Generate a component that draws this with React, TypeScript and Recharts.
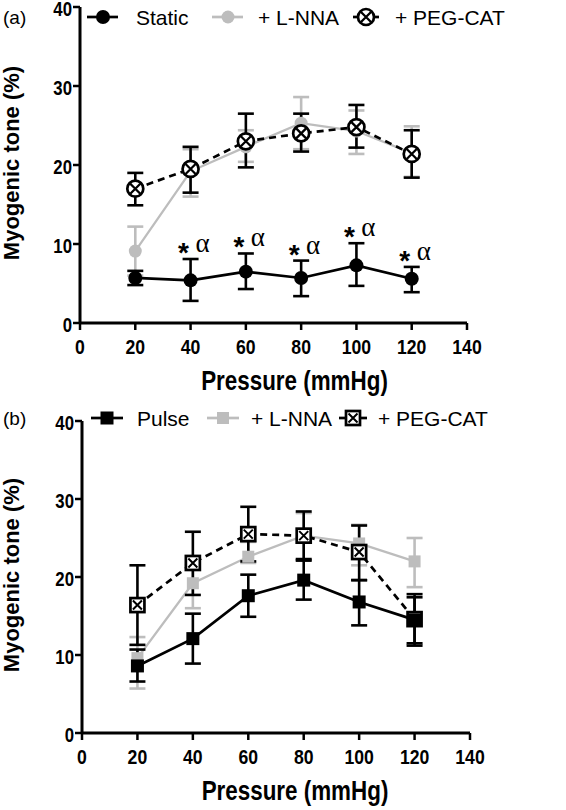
import React from "react";
import { LineChart, Line, XAxis, YAxis, ErrorBar, Legend, LabelList } from "recharts";

const pressure = [20, 40, 60, 80, 100, 120];
const xTicks = [0, 20, 40, 60, 80, 100, 120, 140];
const yTicks = [0, 10, 20, 30, 40];

// panel (a) – static
const staticMean = [5.7, 5.4, 6.5, 5.7, 7.3, 5.6];
const staticHi = [6.6, 8.1, 8.8, 7.9, 10.1, 7.1];
const staticLo = [4.8, 2.8, 4.3, 3.4, 4.7, 3.9];
const staticSig = ["", "*α", "*α", "*α", "*α", "*α"];
const lnnaAMean = [9.1, 19.2, 22.3, 25.3, 24.3, 21.5];
const lnnaAHi = [12.2, 22.0, 24.4, 28.6, 26.9, 24.9];
const lnnaALo = [6.0, 16.0, 20.4, 22.0, 21.4, 18.5];
const pegAMean = [17.0, 19.5, 23.0, 24.0, 24.8, 21.4];
const pegAHi = [19.0, 22.3, 26.5, 26.5, 27.6, 24.4];
const pegALo = [14.9, 16.5, 19.7, 21.7, 22.2, 18.4];

// panel (b) – pulse
const pulseMean = [8.6, 12.1, 17.6, 19.6, 16.8, 14.5];
const pulseHi = [10.7, 15.3, 20.3, 22.1, 19.6, 17.8];
const pulseLo = [6.6, 8.9, 14.9, 17.1, 13.8, 11.2];
const lnnaBMean = [9.6, 19.2, 22.6, 25.3, 24.3, 22.0];
const lnnaBHi = [12.3, 21.5, 24.5, 28.2, 26.7, 25.0];
const lnnaBLo = [5.7, 16.0, 21.8, 22.2, 21.5, 18.7];
const pegBMean = [16.4, 21.8, 25.5, 25.3, 23.2, 14.6];
const pegBHi = [21.5, 25.8, 29.0, 28.4, 26.6, 17.4];
const pegBLo = [11.3, 17.7, 22.0, 22.3, 19.6, 11.5];

const SANS = '"Liberation Sans", Arial, Helvetica, sans-serif';
const GRAY = "#bdbdbd";
const SQUEEZE = 0.84; // bold labels in the figure are condensed

const err = (m: number[], hi: number[], lo: number[], i: number) => [
  +(m[i] - lo[i]).toFixed(2),
  +(hi[i] - m[i]).toFixed(2),
];

const dataA = pressure.map((p, i) => ({
  p,
  s: staticMean[i],
  sErr: err(staticMean, staticHi, staticLo, i),
  sTop: staticHi[i],
  sig: staticSig[i],
  n: lnnaAMean[i],
  nErr: err(lnnaAMean, lnnaAHi, lnnaALo, i),
  g: pegAMean[i],
  gErr: err(pegAMean, pegAHi, pegALo, i),
}));

const dataB = pressure.map((p, i) => ({
  p,
  s: pulseMean[i],
  sErr: err(pulseMean, pulseHi, pulseLo, i),
  n: lnnaBMean[i],
  nErr: err(lnnaBMean, lnnaBHi, lnnaBLo, i),
  g: pegBMean[i],
  gErr: err(pegBMean, pegBHi, pegBLo, i),
}));

// markers
const blackCircle = (p: any) => <circle key={`bc${p.index}`} cx={p.cx} cy={p.cy} r={7} fill="#000" />;
const grayCircle = (p: any) => <circle key={`gc${p.index}`} cx={p.cx} cy={p.cy} r={6.5} fill={GRAY} />;
const crossCircle = (p: any) => {
  const { cx, cy } = p;
  const d = 5;
  return (
    <g key={`xc${p.index}`}>
      <circle cx={cx} cy={cy} r={8} fill="#fff" stroke="#000" strokeWidth={2.7} />
      <path d={`M${cx - d},${cy - d}L${cx + d},${cy + d}M${cx - d},${cy + d}L${cx + d},${cy - d}`} stroke="#000" strokeWidth={2.3} />
    </g>
  );
};
const blackSquare = (p: any) => <rect key={`bs${p.index}`} x={p.cx - 6.5} y={p.cy - 6.5} width={13} height={13} fill="#000" />;
const graySquare = (p: any) => <rect key={`gs${p.index}`} x={p.cx - 6} y={p.cy - 6} width={12} height={12} fill={GRAY} />;
const crossSquare = (p: any) => {
  const { cx, cy } = p;
  const d = 4.5;
  return (
    <g key={`xs${p.index}`}>
      <rect x={cx - 7} y={cy - 7} width={14} height={14} fill="#fff" stroke="#000" strokeWidth={2.7} />
      <path d={`M${cx - d},${cy - d}L${cx + d},${cy + d}M${cx - d},${cy + d}L${cx + d},${cy - d}`} stroke="#000" strokeWidth={2} />
    </g>
  );
};

const SigLabel = (props: any) => {
  const { x, y, value, index } = props;
  if (!value) return null;
  return (
    <g key={`sig${index}`}>
      <text x={x - 7} y={y + 3} textAnchor="middle" fontSize={28} fontWeight="bold" fontFamily={SANS} fill="#000">
        {value[0]}
      </text>
      <text x={x + 12} y={y - 7} textAnchor="middle" fontSize={27} fontFamily='"Liberation Serif", "DejaVu Serif", serif' fill="#000">
        {value.slice(1)}
      </text>
    </g>
  );
};

type LegendItem = { label: string; x1: number; x2: number; cx: number; tx: number; stroke: string; mark: (p: any) => any };

const legendA: LegendItem[] = [
  { label: "Static", x1: 87, x2: 118, cx: 103, tx: 136, stroke: "#000", mark: blackCircle },
  { label: "+ L-NNA", x1: 212, x2: 243, cx: 228, tx: 258, stroke: GRAY, mark: grayCircle },
  { label: "+ PEG-CAT", x1: 353, x2: 379, cx: 366, tx: 395, stroke: "#000", mark: crossCircle },
];
const legendB: LegendItem[] = [
  { label: "Pulse", x1: 91, x2: 123, cx: 107, tx: 137, stroke: "#000", mark: blackSquare },
  { label: "+ L-NNA", x1: 207, x2: 239, cx: 223, tx: 251, stroke: GRAY, mark: graySquare },
  { label: "+ PEG-CAT", x1: 339, x2: 367, cx: 353, tx: 378, stroke: "#000", mark: crossSquare },
];

const LegendSvg = ({ tag, items, cy, base }: { tag: string; items: LegendItem[]; cy: number; base: number }) => (
  <svg width={566} height={36} style={{ display: "block" }}>
    <text x={3} y={base - 1} fontSize={19} fontFamily={SANS} fill="#000">{tag}</text>
    {items.map((it, i) => (
      <g key={i}>
        <line x1={it.x1} x2={it.x2} y1={cy} y2={cy} stroke={it.stroke} strokeWidth={2.7} />
        {it.mark({ cx: it.cx, cy, index: `l${i}` })}
        <text x={it.tx} y={base} fontSize={21} fontFamily={SANS} fill="#000">{it.label}</text>
      </g>
    ))}
  </svg>
);

const XTick = (props: any) => {
  const { x, y, payload } = props;
  return (
    <text transform={`translate(${x}, ${y}) scale(${SQUEEZE}, 1)`} textAnchor="middle" dy="0.71em" fontSize={21} fontWeight="bold" fontFamily={SANS} fill="#000">
      {payload.value}
    </text>
  );
};
const YTick = (props: any) => {
  const { x, y, payload } = props;
  return (
    <text transform={`translate(${x}, ${y + 2}) scale(${SQUEEZE}, 1)`} textAnchor="end" dy="0.355em" fontSize={20} fontWeight="bold" fontFamily={SANS} fill="#000">
      {payload.value}
    </text>
  );
};

const xTitle = (dx: number) => (props: any) => {
  const vb = props.viewBox;
  const x = vb.x + vb.width / 2 + dx;
  const y = vb.y + vb.height - 10;
  return (
    <text transform={`translate(${x}, ${y}) scale(0.83, 1)`} textAnchor="middle" fontSize={27} fontWeight="bold" fontFamily={SANS} fill="#000">
      Pressure (mmHg)
    </text>
  );
};
const yTitle = (props: any) => {
  const vb = props.viewBox;
  const x = 11;
  const y = vb.y + vb.height / 2 - 2;
  return (
    <text x={x} y={y} transform={`rotate(-90, ${x}, ${y})`} textAnchor="middle" dominantBaseline="central" fontSize={22} fontWeight="bold" fontFamily={SANS} fill="#000">
      Myogenic tone (%)
    </text>
  );
};

function Panel({ data, height, top, right, yWidth, tag, items, legendCy, legendBase, square, titleDx }: any) {
  return (
    <LineChart width={566} height={height} data={data} margin={{ top, right, left: 0, bottom: 0 }}>
      <XAxis
        dataKey="p"
        type="number"
        domain={[0, 140]}
        ticks={xTicks}
        height={77}
        axisLine={{ stroke: "#000", strokeWidth: 3 }}
        tickLine={{ stroke: "#000", strokeWidth: 2.5 }}
        tickSize={7}
        tickMargin={9}
        tick={XTick}
        interval={0}
        label={xTitle(titleDx)}
      />
      <YAxis
        type="number"
        domain={[0, 40]}
        ticks={yTicks}
        width={yWidth}
        axisLine={{ stroke: "#000", strokeWidth: 3 }}
        tickLine={{ stroke: "#000", strokeWidth: 2.5 }}
        tickSize={7}
        tickMargin={1}
        tick={YTick}
        interval={0}
        label={yTitle}
      />
      <Legend
        layout="horizontal"
        verticalAlign="middle"
        align="center"
        wrapperStyle={{ position: "absolute", top: 0, left: 0, width: 566, height: 36 }}
        content={() => <LegendSvg tag={tag} items={items} cy={legendCy} base={legendBase} />}
      />
      <Line
        dataKey="n"
        stroke={GRAY}
        strokeWidth={2.3}
        dot={square ? graySquare : grayCircle}
        activeDot={false}
        isAnimationActive={false}
      >
        <ErrorBar dataKey="nErr" direction="y" width={8} stroke={GRAY} strokeWidth={2.6} isAnimationActive={false} />
      </Line>
      <Line
        dataKey="g"
        stroke="#000"
        strokeWidth={2.7}
        strokeDasharray="7 5"
        dot={square ? crossSquare : crossCircle}
        activeDot={false}
        isAnimationActive={false}
      >
        <ErrorBar dataKey="gErr" direction="y" width={8} stroke="#000" strokeWidth={2.6} isAnimationActive={false} />
      </Line>
      <Line
        dataKey="s"
        stroke="#000"
        strokeWidth={2.7}
        dot={square ? blackSquare : blackCircle}
        activeDot={false}
        isAnimationActive={false}
      >
        <ErrorBar dataKey="sErr" direction="y" width={8} stroke="#000" strokeWidth={2.6} isAnimationActive={false} />
      </Line>
      {!square && (
        <Line dataKey="sTop" stroke="none" dot={false} activeDot={false} legendType="none" isAnimationActive={false}>
          <LabelList dataKey="sig" content={SigLabel} />
        </Line>
      )}
    </LineChart>
  );
}

export default function App() {
  return (
    <div style={{ position: "absolute", left: 0, top: 0, width: 566, height: 810, background: "#fff" }}>
      <div style={{ position: "absolute", left: 0, top: 0 }}>
        <Panel data={dataA} height={400} top={7} right={99} yWidth={80} tag="(a)" items={legendA} legendCy={17} legendBase={25} square={false} titleDx={21} />
      </div>
      <div style={{ position: "absolute", left: 0, top: 400 }}>
        <Panel data={dataB} height={410} top={21} right={96} yWidth={82} tag="(b)" items={legendB} legendCy={18} legendBase={26} square={true} titleDx={19} />
      </div>
    </div>
  );
}
